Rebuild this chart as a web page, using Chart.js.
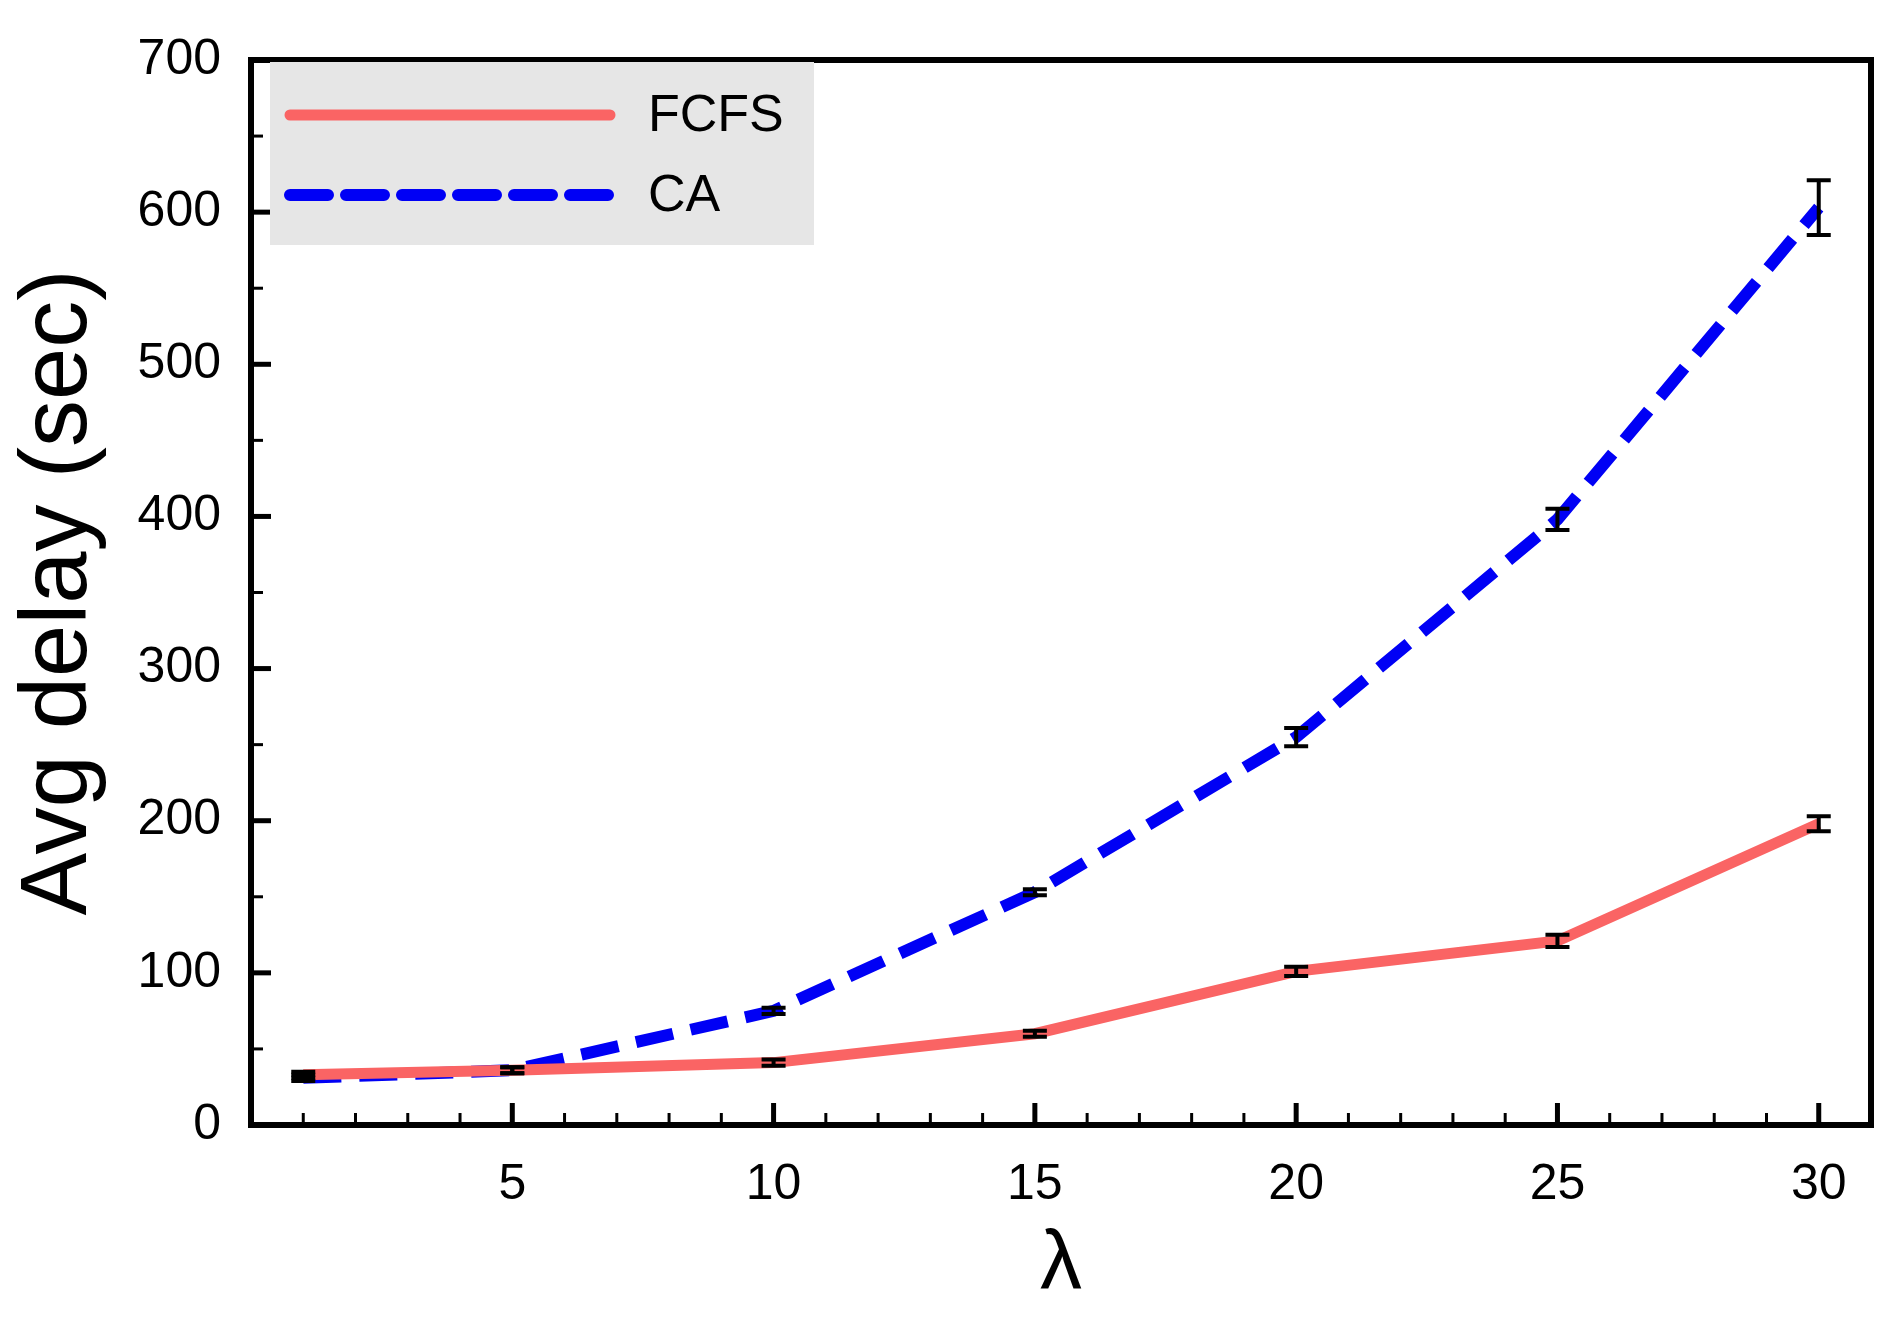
<!DOCTYPE html>
<html><head><meta charset="utf-8">
<script src="https://cdn.jsdelivr.net/npm/chart.js@4"></script>
<style>html,body{margin:0;padding:0;background:#fff}#wrap{width:1895px;height:1320px}</style>
</head><body><div id="wrap"><canvas id="c" width="1895" height="1320"></canvas></div>
<script>
const lambdas = [1, 5, 10, 15, 20, 25, 30];
const fcfs = [33, 36, 41, 60, 101, 121, 198];
const fcfsErr = [2, 2, 2, 2, 3, 4, 5];
const ca = [31, 36, 75, 153, 255, 398, 603];
const caErr = [2, 2, 2, 2, 6, 7, 18];
const xTicks = [5, 10, 15, 20, 25, 30];
const yTicks = [0, 100, 200, 300, 400, 500, 600, 700];
const FONT = '"Liberation Sans", Arial, sans-serif';

const decor = {
  id: 'decor',
  afterDatasetsDraw(chart) {
    const ctx = chart.ctx, a = chart.chartArea, xs = chart.scales.x, ys = chart.scales.y;
    ctx.save();
    ctx.strokeStyle = '#000'; ctx.lineWidth = 4;
    [[fcfs, fcfsErr], [ca, caErr]].forEach(([v, e]) => {
      lambdas.forEach((l, i) => {
        const x = xs.getPixelForValue(l), y1 = ys.getPixelForValue(v[i] - e[i]), y2 = ys.getPixelForValue(v[i] + e[i]);
        ctx.beginPath();
        ctx.moveTo(x, y1); ctx.lineTo(x, y2);
        ctx.moveTo(x - 12, y1); ctx.lineTo(x + 12, y1);
        ctx.moveTo(x - 12, y2); ctx.lineTo(x + 12, y2);
        ctx.stroke();
      });
    });
    ctx.lineWidth = 3;
    for (let v = 0; v <= 700; v += 50) {
      const y = ys.getPixelForValue(v), len = v % 100 === 0 ? 20 : 12;
      ctx.lineWidth = v % 100 === 0 ? 5 : 3;
      ctx.beginPath(); ctx.moveTo(a.left, y); ctx.lineTo(a.left + len, y); ctx.stroke();
    }
    for (let v = 1; v <= 31; v++) {
      const x = xs.getPixelForValue(v), len = v % 5 === 0 ? 22 : 12;
      ctx.lineWidth = v % 5 === 0 ? 5 : 3;
      ctx.beginPath(); ctx.moveTo(x, a.bottom); ctx.lineTo(x, a.bottom - len); ctx.stroke();
    }
    ctx.lineWidth = 6;
    ctx.strokeRect(a.left, a.top, a.right - a.left, a.bottom - a.top);
    ctx.fillStyle = '#e6e6e6';
    ctx.fillRect(270, 62, 544, 183);
    chart.data.datasets.forEach((d, i) => {
      const y = 115 + i * 80;
      ctx.strokeStyle = d.borderColor; ctx.lineWidth = d.borderWidth; ctx.lineCap = 'round';
      ctx.setLineDash(d.borderDash || []);
      ctx.beginPath(); ctx.moveTo(290, y); ctx.lineTo(610, y); ctx.stroke();
      ctx.setLineDash([]);
      ctx.fillStyle = '#000'; ctx.font = '52px ' + FONT; ctx.textBaseline = 'middle';
      ctx.fillText(d.label, 648, y + 2);
    });
    ctx.restore();
  }
};

new Chart(document.getElementById('c'), {
  type: 'line',
  data: {
    datasets: [
      { label: 'FCFS', data: lambdas.map((l, i) => ({x: l, y: fcfs[i]})), borderColor: '#fa6464', borderWidth: 11, pointRadius: 0, tension: 0 },
      { label: 'CA', data: lambdas.map((l, i) => ({x: l, y: ca[i]})), borderColor: '#0000f5', borderWidth: 12, borderDash: [38, 18], pointRadius: 0, tension: 0 }
    ]
  },
  options: {
    responsive: false, animation: false,
    layout: { padding: { top: 20, right: 24, left: 0, bottom: 0 } },
    plugins: { legend: { display: false }, tooltip: { enabled: false } },
    scales: {
      x: {
        type: 'linear', min: 0, max: 31,
        afterBuildTicks(s) { s.ticks = xTicks.map(v => ({value: v})); },
        afterFit(s) { s.height = 195; },
        grid: { display: false, drawTicks: false }, border: { display: false },
        ticks: { color: '#000', font: { size: 50, family: FONT }, padding: 30, maxRotation: 0 },
        title: { display: true, text: 'λ', color: '#000', font: { size: 84, family: FONT }, padding: { top: 0 } }
      },
      y: {
        min: 0, max: 700,
        afterBuildTicks(s) { s.ticks = yTicks.map(v => ({value: v})); },
        afterFit(s) { s.width = 251; },
        grid: { display: false, drawTicks: false }, border: { display: false },
        ticks: { color: '#000', font: { size: 50, family: FONT }, padding: 30 },
        title: { display: true, text: 'Avg delay (sec)', color: '#000', font: { size: 94, family: FONT }, padding: { bottom: 4 } }
      }
    }
  },
  plugins: [decor]
});
</script></body></html>
